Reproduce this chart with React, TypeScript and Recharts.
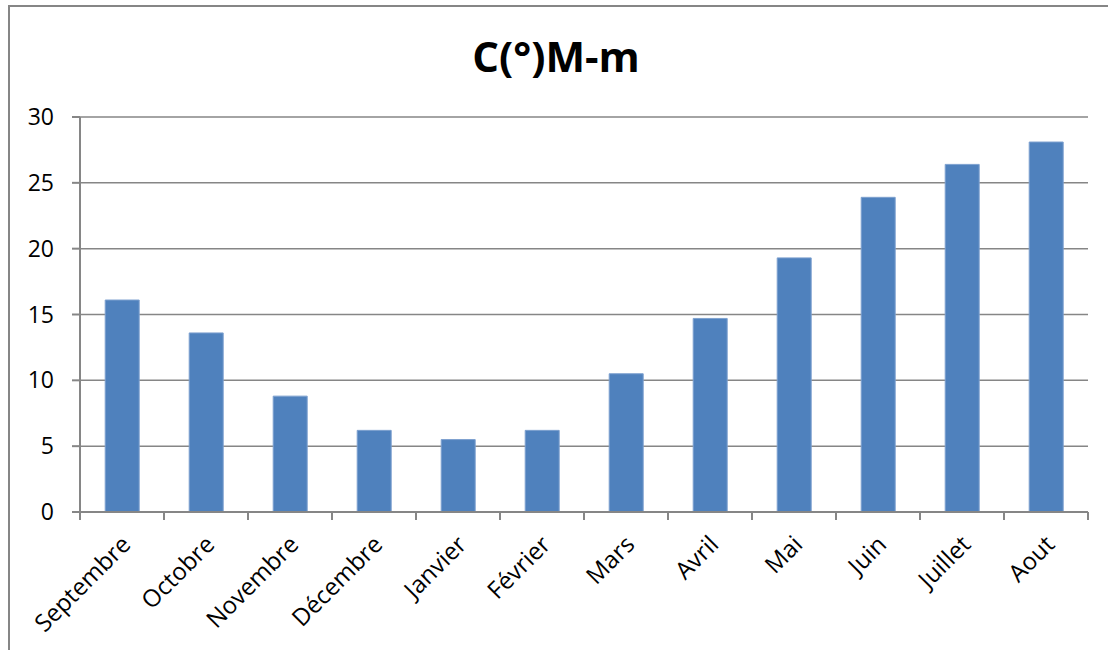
import { Bar, BarChart, CartesianGrid, XAxis, YAxis } from "recharts";

const months = [
  "Septembre",
  "Octobre",
  "Novembre",
  "Décembre",
  "Janvier",
  "Février",
  "Mars",
  "Avril",
  "Mai",
  "Juin",
  "Juillet",
  "Aout",
];
const amplitude = [16.1, 13.6, 8.8, 6.2, 5.5, 6.2, 10.5, 14.7, 19.3, 23.9, 26.4, 28.1];
const yTicks = [0, 5, 10, 15, 20, 25, 30];

const data = months.map((month, i) => ({ month, value: amplitude[i] }));

const AXIS = "#868686";
const FONT = "'Open Sans', sans-serif";
const BAND = 84;

function MonthTick(props: any) {
  const { x, y, payload, index } = props;
  const last = index === months.length - 1;
  return (
    <g>
      <line x1={x - BAND / 2} y1={y} x2={x - BAND / 2} y2={y + 8} stroke={AXIS} strokeWidth={2} />
      {last && <line x1={x + BAND / 2} y1={y} x2={x + BAND / 2} y2={y + 8} stroke={AXIS} strokeWidth={2} />}
      <text
        transform={`translate(${x + 10},${y + 34}) rotate(-45)`}
        textAnchor="end"
        fontSize={24}
        fontFamily={FONT}
        fill="#000"
      >
        {payload.value}
      </text>
    </g>
  );
}

export default function App() {
  return (
    <div style={{ position: "absolute", left: 0, top: 0, width: 1108, height: 650, background: "#fff" }}>
      <div
        style={{
          position: "absolute",
          left: 8,
          top: 5,
          width: 1120,
          height: 660,
          border: `2px solid ${AXIS}`,
          boxSizing: "border-box",
        }}
      />
      <div
        style={{
          position: "absolute",
          left: 0,
          width: 1112,
          top: 30,
          textAlign: "center",
          fontFamily: FONT,
          fontWeight: 700,
          fontSize: 42,
          lineHeight: "52px",
        }}
      >
        C(°)M-m
      </div>
      <BarChart
        width={1108}
        height={650}
        data={data}
        margin={{ top: 117, right: 20, left: 0, bottom: 0 }}
        barCategoryGap="30%"
        style={{ position: "absolute", left: 0, top: 0 }}
      >
        <CartesianGrid horizontal vertical={false} stroke={AXIS} strokeWidth={1.5} />
        <XAxis
          dataKey="month"
          height={138}
          interval={0}
          axisLine={{ stroke: AXIS, strokeWidth: 2 }}
          tickLine={false}
          tickSize={0}
          tickMargin={0}
          tick={<MonthTick />}
        />
        <YAxis
          width={80}
          domain={[0, 30]}
          ticks={yTicks}
          interval={0}
          axisLine={{ stroke: AXIS, strokeWidth: 2 }}
          tickLine={{ stroke: AXIS, strokeWidth: 2 }}
          tickSize={8}
          tickMargin={18}
          tick={{ fontSize: 23, fontFamily: FONT, fill: "#000" }}
        />
        <Bar dataKey="value" fill="#4F81BD" stroke="#7da0cf" strokeWidth={1} isAnimationActive={false} />
      </BarChart>
    </div>
  );
}
